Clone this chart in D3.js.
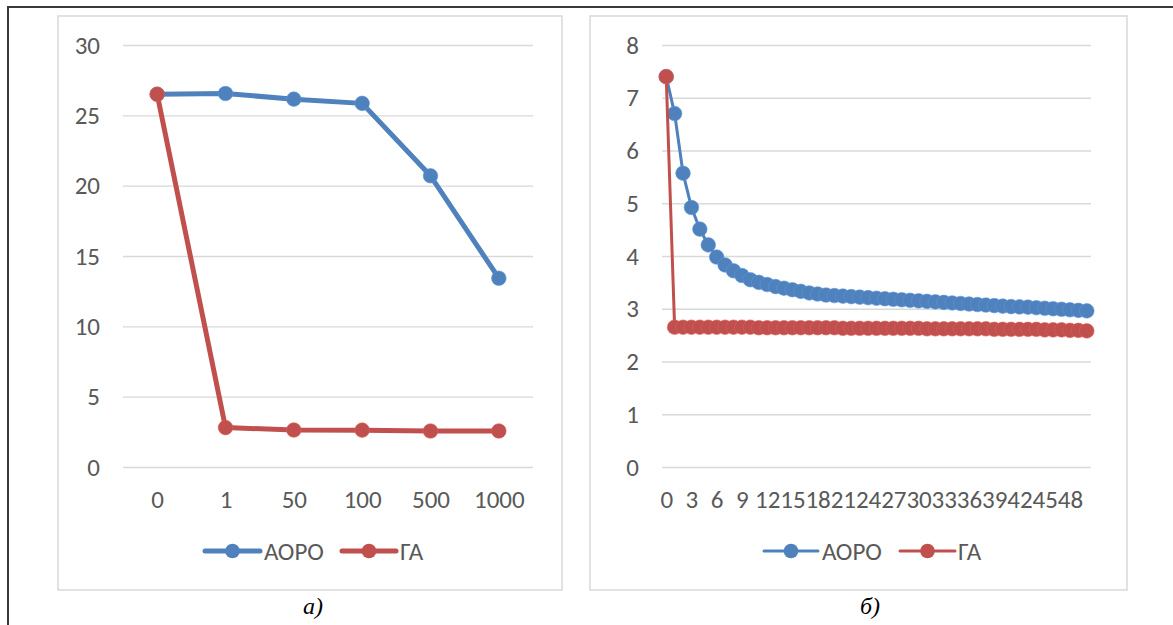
<!DOCTYPE html>
<html>
<head>
<meta charset="utf-8">
<script src="https://cdn.jsdelivr.net/npm/d3@7"></script>
<style>
  body { margin: 0; background: #fff; }
  svg { display: block; }
  .tick text { font-family: Carlito, Calibri, 'Open Sans', sans-serif; font-size: 25px; fill: #595959; }
  .legend text { font-family: Carlito, Calibri, 'Open Sans', sans-serif; font-size: 25px; fill: #595959; }
  .caption { font-family: 'Liberation Serif', 'DejaVu Serif', serif; font-style: italic; font-size: 24px; fill: #000; }
</style>
</head>
<body>
<script>
// chart a)
var catsA = ['0', '1', '50', '100', '500', '1000'];
var aoroA = [26.5, 26.55, 26.15, 25.85, 20.7, 13.42];
var gaA = [26.5, 2.8, 2.63, 2.62, 2.56, 2.56];

// chart б)
var catsB = d3.range(0, 51).map(String);
var aoroB = [7.40, 6.70, 5.57, 4.92, 4.51, 4.21, 3.98, 3.83, 3.72, 3.63,
    3.55, 3.50, 3.46, 3.42, 3.39, 3.36, 3.33, 3.30, 3.28, 3.26,
    3.25, 3.24, 3.23, 3.22, 3.21, 3.20, 3.19, 3.18, 3.17, 3.16,
    3.15, 3.14, 3.13, 3.12, 3.11, 3.10, 3.09, 3.08, 3.07, 3.06,
    3.05, 3.04, 3.035, 3.03, 3.02, 3.01, 3.00, 2.99, 2.98, 2.97, 2.96];
var gaB = [7.40, 2.65, 2.65, 2.65, 2.65, 2.65, 2.65, 2.65, 2.65, 2.65,
    2.65, 2.64, 2.64, 2.64, 2.64, 2.64, 2.64, 2.64, 2.64, 2.64,
    2.64, 2.63, 2.63, 2.63, 2.63, 2.63, 2.63, 2.63, 2.63, 2.63,
    2.63, 2.62, 2.62, 2.62, 2.62, 2.62, 2.62, 2.62, 2.62, 2.61,
    2.61, 2.61, 2.61, 2.61, 2.61, 2.60, 2.60, 2.60, 2.59, 2.59, 2.58];

var seriesNames = ['АОРО', 'ГА'];
var colors = ['#4f81bd', '#c0504d'];

var svg = d3.select('body').append('svg').attr('width', 1173).attr('height', 625);

// outer frame
svg.append('rect').attr('x', 8).attr('y', 7).attr('width', 1200).attr('height', 700)
    .attr('fill', 'none').attr('stroke', '#3a3a3a').attr('stroke-width', 2);

drawChart({
    frame: [58, 16, 504, 574], x: [123, 533], y: [467, 45],
    cats: catsA, series: [aoroA, gaA], ymax: 30, ystep: 5,
    lineW: 5, r: 7.3, every: 1,
    legend: [[205, 260, 264], [342, 396, 400]], legendW: 5,
    caption: 'а)', capX: 313
});

drawChart({
    frame: [590, 16, 537, 574], x: [662, 1091], y: [467, 45],
    cats: catsB, series: [aoroB, gaB], ymax: 8, ystep: 1,
    lineW: 3, r: 7.3, every: 3,
    legend: [[764, 818, 822], [900, 955, 958]], legendW: 3,
    caption: 'б)', capX: 870
});

function drawChart(o) {
    var g = svg.append('g');

    g.append('rect').attr('x', o.frame[0]).attr('y', o.frame[1])
        .attr('width', o.frame[2]).attr('height', o.frame[3])
        .attr('fill', '#fff').attr('stroke', '#d9d9d9').attr('stroke-width', 1.5);

    var x = d3.scalePoint().domain(o.cats).range(o.x).padding(0.5);
    var y = d3.scaleLinear().domain([0, o.ymax]).range(o.y);

    var yAxis = d3.axisLeft(y).tickValues(d3.range(0, o.ymax + o.ystep / 2, o.ystep))
        .tickSize(-(o.x[1] - o.x[0])).tickPadding(23).tickFormat(d3.format('d'));
    var ya = g.append('g').attr('transform', 'translate(' + o.x[0] + ',0)').call(yAxis);
    ya.select('.domain').remove();
    ya.selectAll('.tick line').attr('stroke', '#d9d9d9').attr('stroke-width', 1.4);

    var xAxis = d3.axisBottom(x).tickSize(0).tickPadding(23)
        .tickFormat(function(d, i) { return i % o.every === 0 ? d : ''; });
    var xa = g.append('g').attr('transform', 'translate(0,' + o.y[0] + ')').call(xAxis);
    xa.select('.domain').remove();

    var line = d3.line()
        .x(function(d, i) { return x(o.cats[i]); })
        .y(function(d) { return y(d); });

    o.series.forEach(function(s, k) {
        var sg = g.append('g');
        sg.append('path').datum(s).attr('d', line)
            .attr('fill', 'none').attr('stroke', colors[k]).attr('stroke-width', o.lineW)
            .attr('stroke-linejoin', 'round');
        sg.selectAll('circle').data(s).enter().append('circle')
            .attr('cx', function(d, i) { return x(o.cats[i]); })
            .attr('cy', function(d) { return y(d); })
            .attr('r', o.r).attr('fill', colors[k])
            .attr('stroke', d3.color(colors[k]).brighter(0.4)).attr('stroke-width', 0.6);
    });

    // legend
    var lg = g.append('g').attr('class', 'legend');
    seriesNames.forEach(function(name, k) {
        var p = o.legend[k];
        lg.append('line').attr('x1', p[0]).attr('x2', p[1]).attr('y1', 551).attr('y2', 551)
            .attr('stroke', colors[k]).attr('stroke-width', o.legendW).attr('stroke-linecap', 'round');
        lg.append('circle').attr('cx', (p[0] + p[1]) / 2).attr('cy', 551).attr('r', o.r).attr('fill', colors[k]);
        lg.append('text').attr('x', p[2]).attr('y', 560).text(name);
    });

    g.append('text').attr('class', 'caption').attr('x', o.capX).attr('y', 614)
        .attr('text-anchor', 'middle').text(o.caption);
}
</script>
</body>
</html>
